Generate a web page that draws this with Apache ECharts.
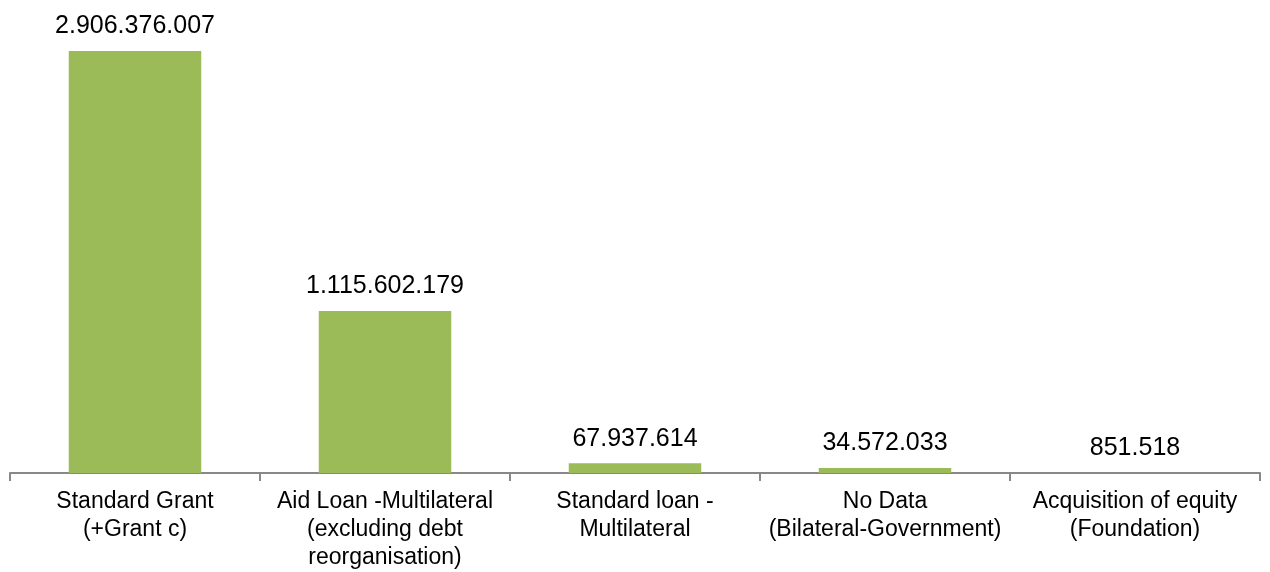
<!DOCTYPE html>
<html>
<head>
<meta charset="utf-8">
<script src="https://cdn.jsdelivr.net/npm/echarts@6/dist/echarts.min.js"></script>
<style>
  html, body { margin: 0; padding: 0; background: #ffffff; }
  #chart { width: 1270px; height: 572px; }
</style>
</head>
<body>
<div id="chart"></div>
<script>
// Financing types and the amounts committed under each
const categories = [
  'Standard Grant\n(+Grant c)',
  'Aid Loan -Multilateral\n(excluding debt\nreorganisation)',
  'Standard loan -\nMultilateral',
  'No Data\n(Bilateral-Government)',
  'Acquisition of equity\n(Foundation)'
];
const amounts = [2906376007, 1115602179, 67937614, 34572033, 851518];

// Dot-separated thousands, e.g. 2.906.376.007
function groupDots(n) {
  return String(Math.round(n)).replace(/\B(?=(\d{3})+(?!\d))/g, '.');
}

const chart = echarts.init(document.getElementById('chart'), null, { renderer: 'canvas' });
chart.setOption({
  animation: false,
  backgroundColor: '#ffffff',
  textStyle: { fontFamily: 'Liberation Sans, Arial, sans-serif' },
  grid: { left: 10, right: 10, top: 51, bottom: 95, containLabel: false },
  xAxis: {
    type: 'category',
    data: categories,
    boundaryGap: true,
    axisLine: { show: true, lineStyle: { color: '#888888', width: 2 } },
    axisTick: { show: true, alignWithLabel: false, length: 8, lineStyle: { color: '#888888', width: 2 } },
    axisLabel: {
      interval: 0,
      margin: 15,
      color: '#000000',
      fontSize: 23,
      lineHeight: 28,
      fontFamily: 'Liberation Sans, Arial, sans-serif',
      align: 'center'
    }
  },
  yAxis: {
    type: 'value',
    show: false,
    min: 0,
    max: 'dataMax',
    splitLine: { show: false }
  },
  series: [{
    type: 'bar',
    data: amounts,
    barWidth: '53%',
    itemStyle: { color: '#9bbb59' },
    label: {
      show: true,
      position: 'top',
      distance: 12,
      color: '#000000',
      fontSize: 25,
      fontFamily: 'Liberation Sans, Arial, sans-serif',
      formatter: p => groupDots(p.value)
    }
  }]
});
</script>
</body>
</html>
